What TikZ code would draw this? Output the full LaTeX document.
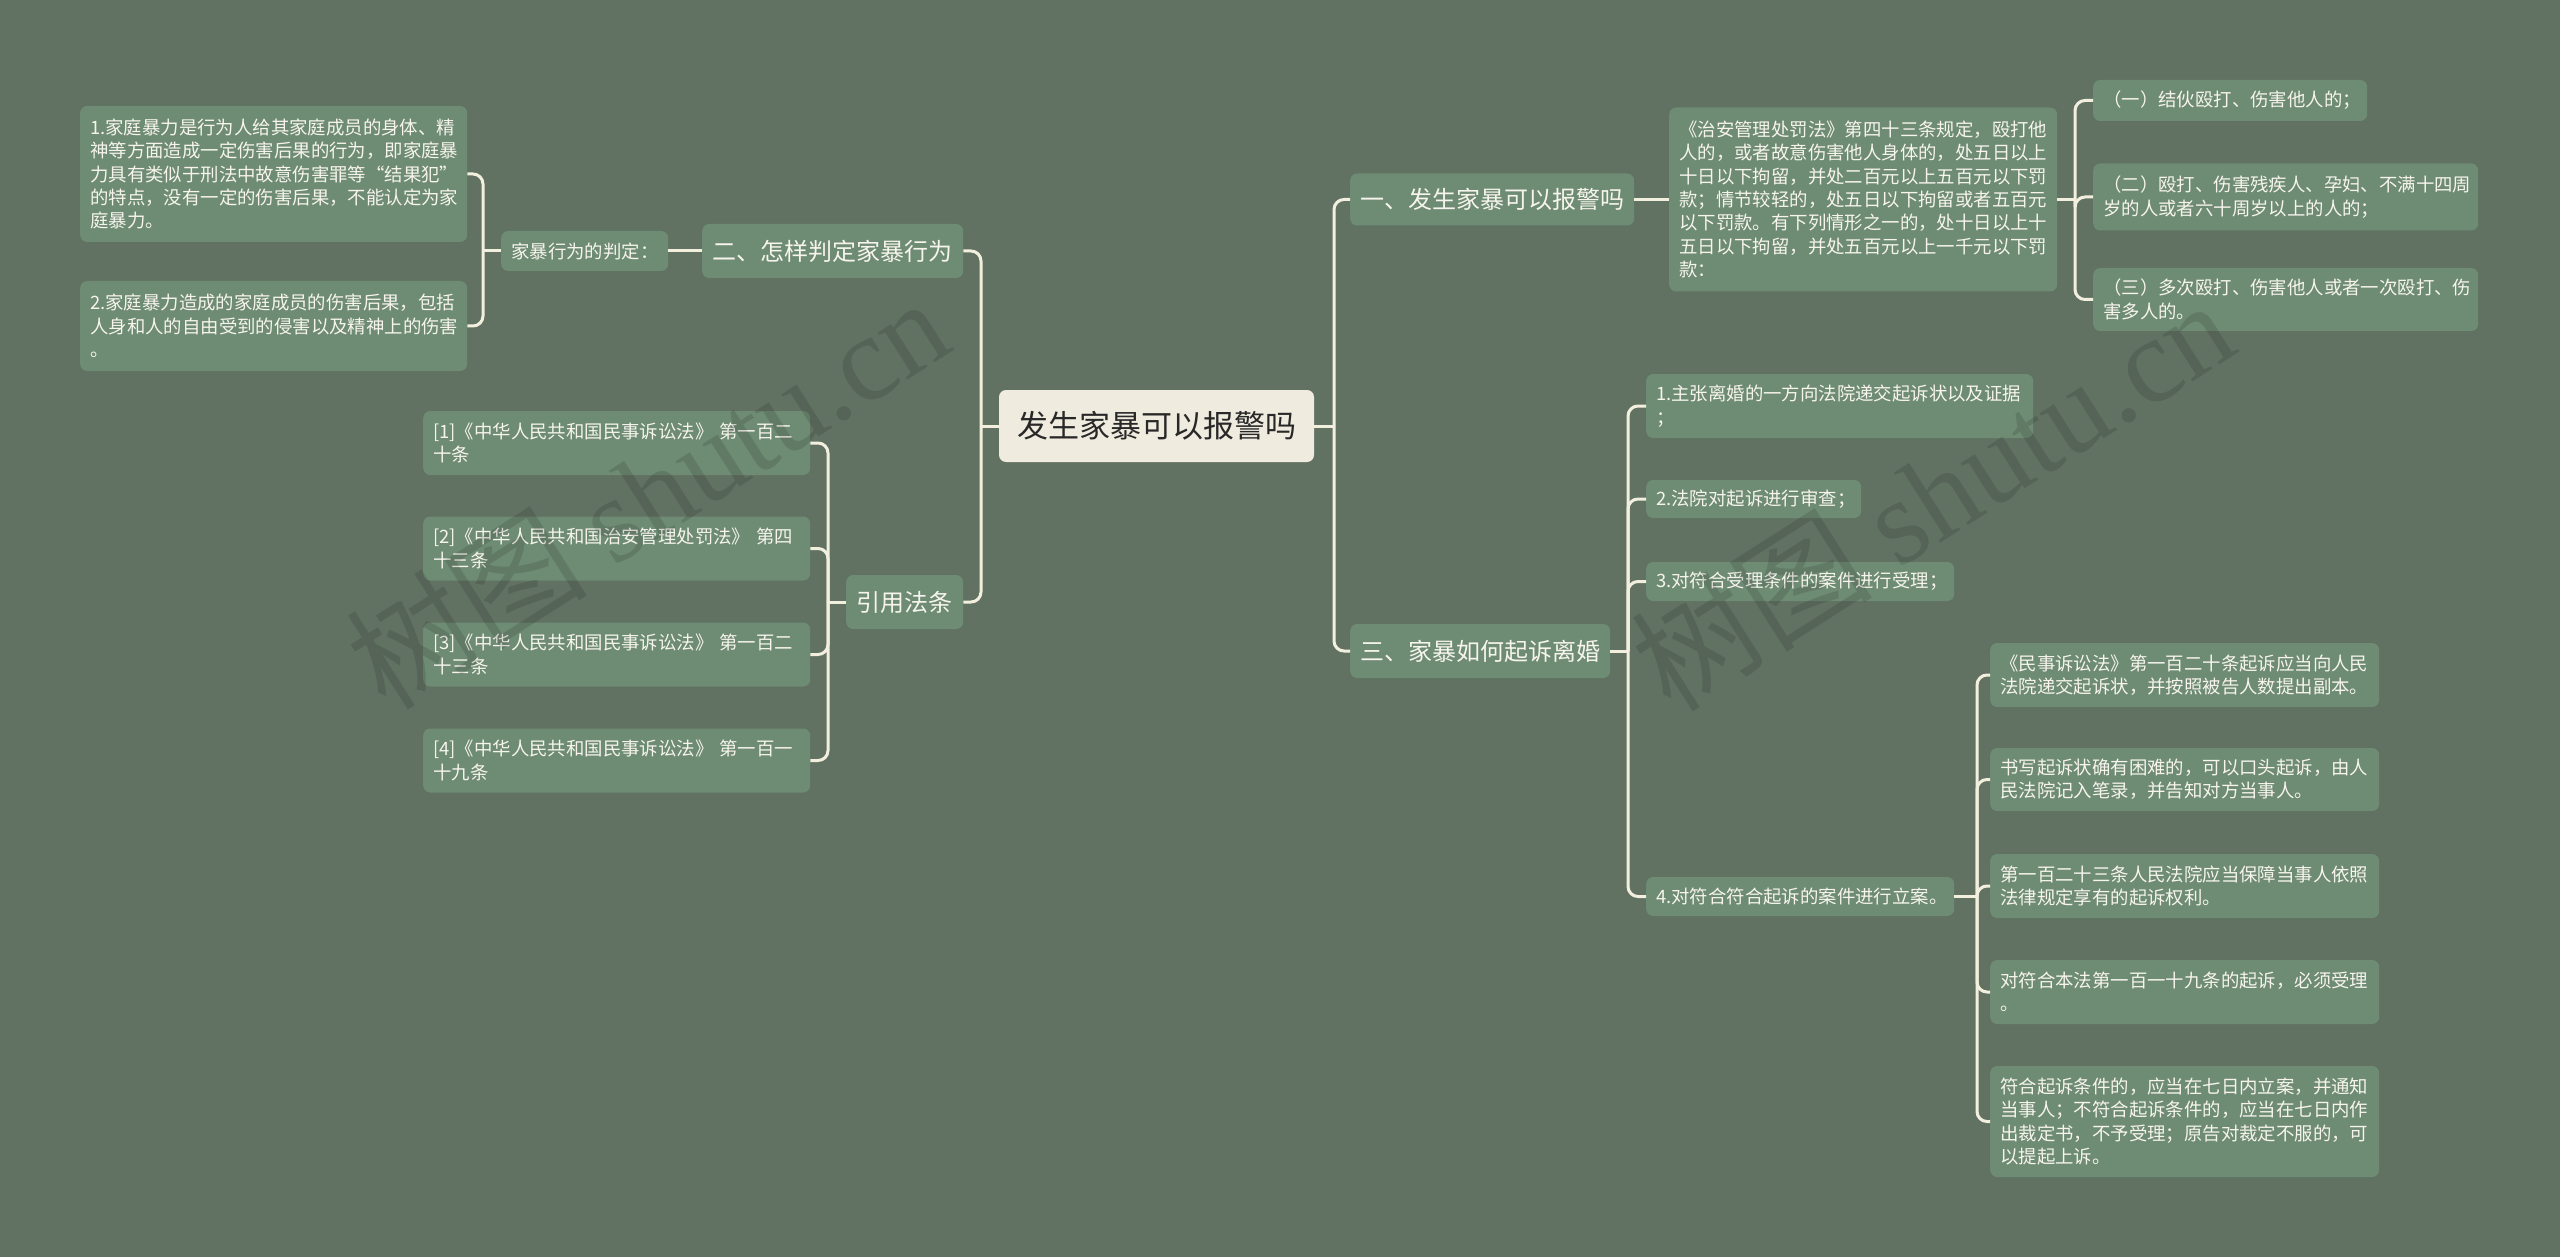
\documentclass[tikz,border=0pt]{standalone}
\usepackage{fontspec}
\setmainfont{Noto Sans CJK SC}
\newfontfamily\wmlatin{Liberation Serif}
\definecolor{bgc}{RGB}{97,114,98}
\definecolor{boxc}{RGB}{110,139,116}
\definecolor{rootc}{RGB}{239,235,222}
\definecolor{linec}{RGB}{243,239,222}
\definecolor{txtc}{RGB}{246,244,236}
\definecolor{roottxt}{RGB}{40,40,40}
\newcommand\fsS{\fontsize{18.4}{23.4}\selectfont}
\newcommand\fsM{\fontsize{24}{30}\selectfont}
\newcommand\fsR{\fontsize{31}{38}\selectfont}
\tikzset{
  nb/.style={rectangle, rounded corners=7pt, fill=boxc, text=txtc, inner xsep=10pt, inner ysep=0pt, align=left, anchor=west},
  sbox/.style={nb, font=\fsS},
  mbox/.style={nb, font=\fsM, align=center},
  conn/.style={draw=linec, line width=3pt, rounded corners=10pt},
  wm/.style={text=black, opacity=0.12, rotate=32.5, font=\fontsize{121}{121}\selectfont},
}
\begin{document}
\begin{tikzpicture}[x=1pt,y=-1pt]
\fill[bgc] (0,0) rectangle (2560,1257);
\useasboundingbox (0,0) rectangle (2560,1257);

% root
\node[rectangle, rounded corners=7pt, fill=rootc, text=roottxt, font=\fsR, minimum width=315pt, minimum height=72pt] (root) at (1156.5,426) {发生家暴可以报警吗};

% left side
\node[mbox, minimum width=261pt, minimum height=54pt] (L1a) at (702,251) {二、怎样判定家暴行为};
\node[sbox, text width=147pt, minimum height=40pt] (L2a) at (501,251) {家暴行为的判定：};
\node[sbox, text width=367pt, minimum height=136pt] (b1) at (80,174) {1.家庭暴力是行为人给其家庭成员的身体、精\\神等方面造成一定伤害后果的行为，即家庭暴\\力具有类似于刑法中故意伤害罪等“结果犯”\\的特点，没有一定的伤害后果，不能认定为家\\庭暴力。};
\node[sbox, text width=367pt, minimum height=90pt] (b2) at (80,326) {2.家庭暴力造成的家庭成员的伤害后果，包括\\人身和人的自由受到的侵害以及精神上的伤害\\。};

\node[mbox, minimum width=117pt, minimum height=54pt] (L1b) at (846,602) {引用法条};
\node[sbox, text width=367pt, minimum height=64pt] (r1) at (423,443) {[1]《中华人民共和国民事诉讼法》 第一百二\\十条};
\node[sbox, text width=367pt, minimum height=64pt] (r2) at (423,548.5) {[2]《中华人民共和国治安管理处罚法》 第四\\十三条};
\node[sbox, text width=367pt, minimum height=64pt] (r3) at (423,654.5) {[3]《中华人民共和国民事诉讼法》 第一百二\\十三条};
\node[sbox, text width=367pt, minimum height=64pt] (r4) at (423,760.5) {[4]《中华人民共和国民事诉讼法》 第一百一\\十九条};

% right side
\node[mbox, minimum width=284pt, minimum height=52pt] (R1a) at (1350,199.5) {一、发生家暴可以报警吗};
\node[sbox, text width=368pt, minimum height=184pt] (R2a) at (1669,199.5) {《治安管理处罚法》第四十三条规定，殴打他\\人的，或者故意伤害他人身体的，处五日以上\\十日以下拘留，并处二百元以上五百元以下罚\\款；情节较轻的，处五日以下拘留或者五百元\\以下罚款。有下列情形之一的，处十日以上十\\五日以下拘留，并处五百元以上一千元以下罚\\款：};
\node[sbox, text width=254pt, minimum height=41pt] (s1) at (2093,100.5) {（一）结伙殴打、伤害他人的；};
\node[sbox, text width=365pt, minimum height=67pt] (s2) at (2093,197) {（二）殴打、伤害残疾人、孕妇、不满十四周\\岁的人或者六十周岁以上的人的；};
\node[sbox, text width=365pt, minimum height=63pt] (s3) at (2093,299.5) {（三）多次殴打、伤害他人或者一次殴打、伤\\害多人的。};

\node[mbox, minimum width=260pt, minimum height=54pt] (R1b) at (1350,651) {三、家暴如何起诉离婚};
\node[sbox, text width=367pt, minimum height=64pt] (i1) at (1646,406) {1.主张离婚的一方向法院递交起诉状以及证据\\；};
\node[sbox, text width=195pt, minimum height=38pt] (i2) at (1646,499) {2.法院对起诉进行审查；};
\node[sbox, text width=288pt, minimum height=39pt] (i3) at (1646,581.5) {3.对符合受理条件的案件进行受理；};
\node[sbox, text width=288pt, minimum height=39pt] (i4) at (1646,896.5) {4.对符合符合起诉的案件进行立案。};

\node[sbox, text width=369pt, minimum height=64pt] (t1) at (1990,675) {《民事诉讼法》第一百二十条起诉应当向人民\\法院递交起诉状，并按照被告人数提出副本。};
\node[sbox, text width=369pt, minimum height=63pt] (t2) at (1990,779.5) {书写起诉状确有困难的，可以口头起诉，由人\\民法院记入笔录，并告知对方当事人。};
\node[sbox, text width=369pt, minimum height=64pt] (t3) at (1990,886) {第一百二十三条人民法院应当保障当事人依照\\法律规定享有的起诉权利。};
\node[sbox, text width=369pt, minimum height=64pt] (t4) at (1990,992) {对符合本法第一百一十九条的起诉，必须受理\\。};
\node[sbox, text width=369pt, minimum height=111pt] (t5) at (1990,1121.5) {符合起诉条件的，应当在七日内立案，并通知\\当事人；不符合起诉条件的，应当在七日内作\\出裁定书，不予受理；原告对裁定不服的，可\\以提起上诉。};

% junctions
\coordinate (jr) at (1334,426);
\coordinate (jl) at (981,426);
\coordinate (j2) at (483,251);
\coordinate (j3) at (828,602);
\coordinate (j4) at (2075,199.5);
\coordinate (j5) at (1628,651);
\coordinate (j6) at (1977,896.5);

% connectors
\draw[conn] (root.east) -- (jr);
\draw[conn] (jr) |- (R1a.west);
\draw[conn] (jr) |- (R1b.west);
\draw[conn] (root.west) -- (jl);
\draw[conn] (jl) |- (L1a.east);
\draw[conn] (jl) |- (L1b.east);

\draw[conn] (L1a.west) -- (L2a.east);
\draw[conn] (L2a.west) -- (j2);
\draw[conn] (j2) |- (b1.east);
\draw[conn] (j2) |- (b2.east);

\draw[conn] (L1b.west) -- (j3);
\foreach \n in {r1,r2,r3,r4} \draw[conn] (j3) |- (\n.east);

\draw[conn] (R1a.east) -- (R2a.west);
\draw[conn] (R2a.east) -- (j4);
\foreach \n in {s1,s2,s3} \draw[conn] (j4) |- (\n.west);

\draw[conn] (R1b.east) -- (j5);
\foreach \n in {i1,i2,i3,i4} \draw[conn] (j5) |- (\n.west);

\draw[conn] (i4.east) -- (j6);
\foreach \n in {t1,t2,t3,t4,t5} \draw[conn] (j6) |- (\n.west);

% watermarks
\node[wm] (wm1) at (647,492) {树图 {\wmlatin shutu.cn}};
\node[wm] (wm2) at (1932,494) {树图 {\wmlatin shutu.cn}};
\end{tikzpicture}
\end{document}
